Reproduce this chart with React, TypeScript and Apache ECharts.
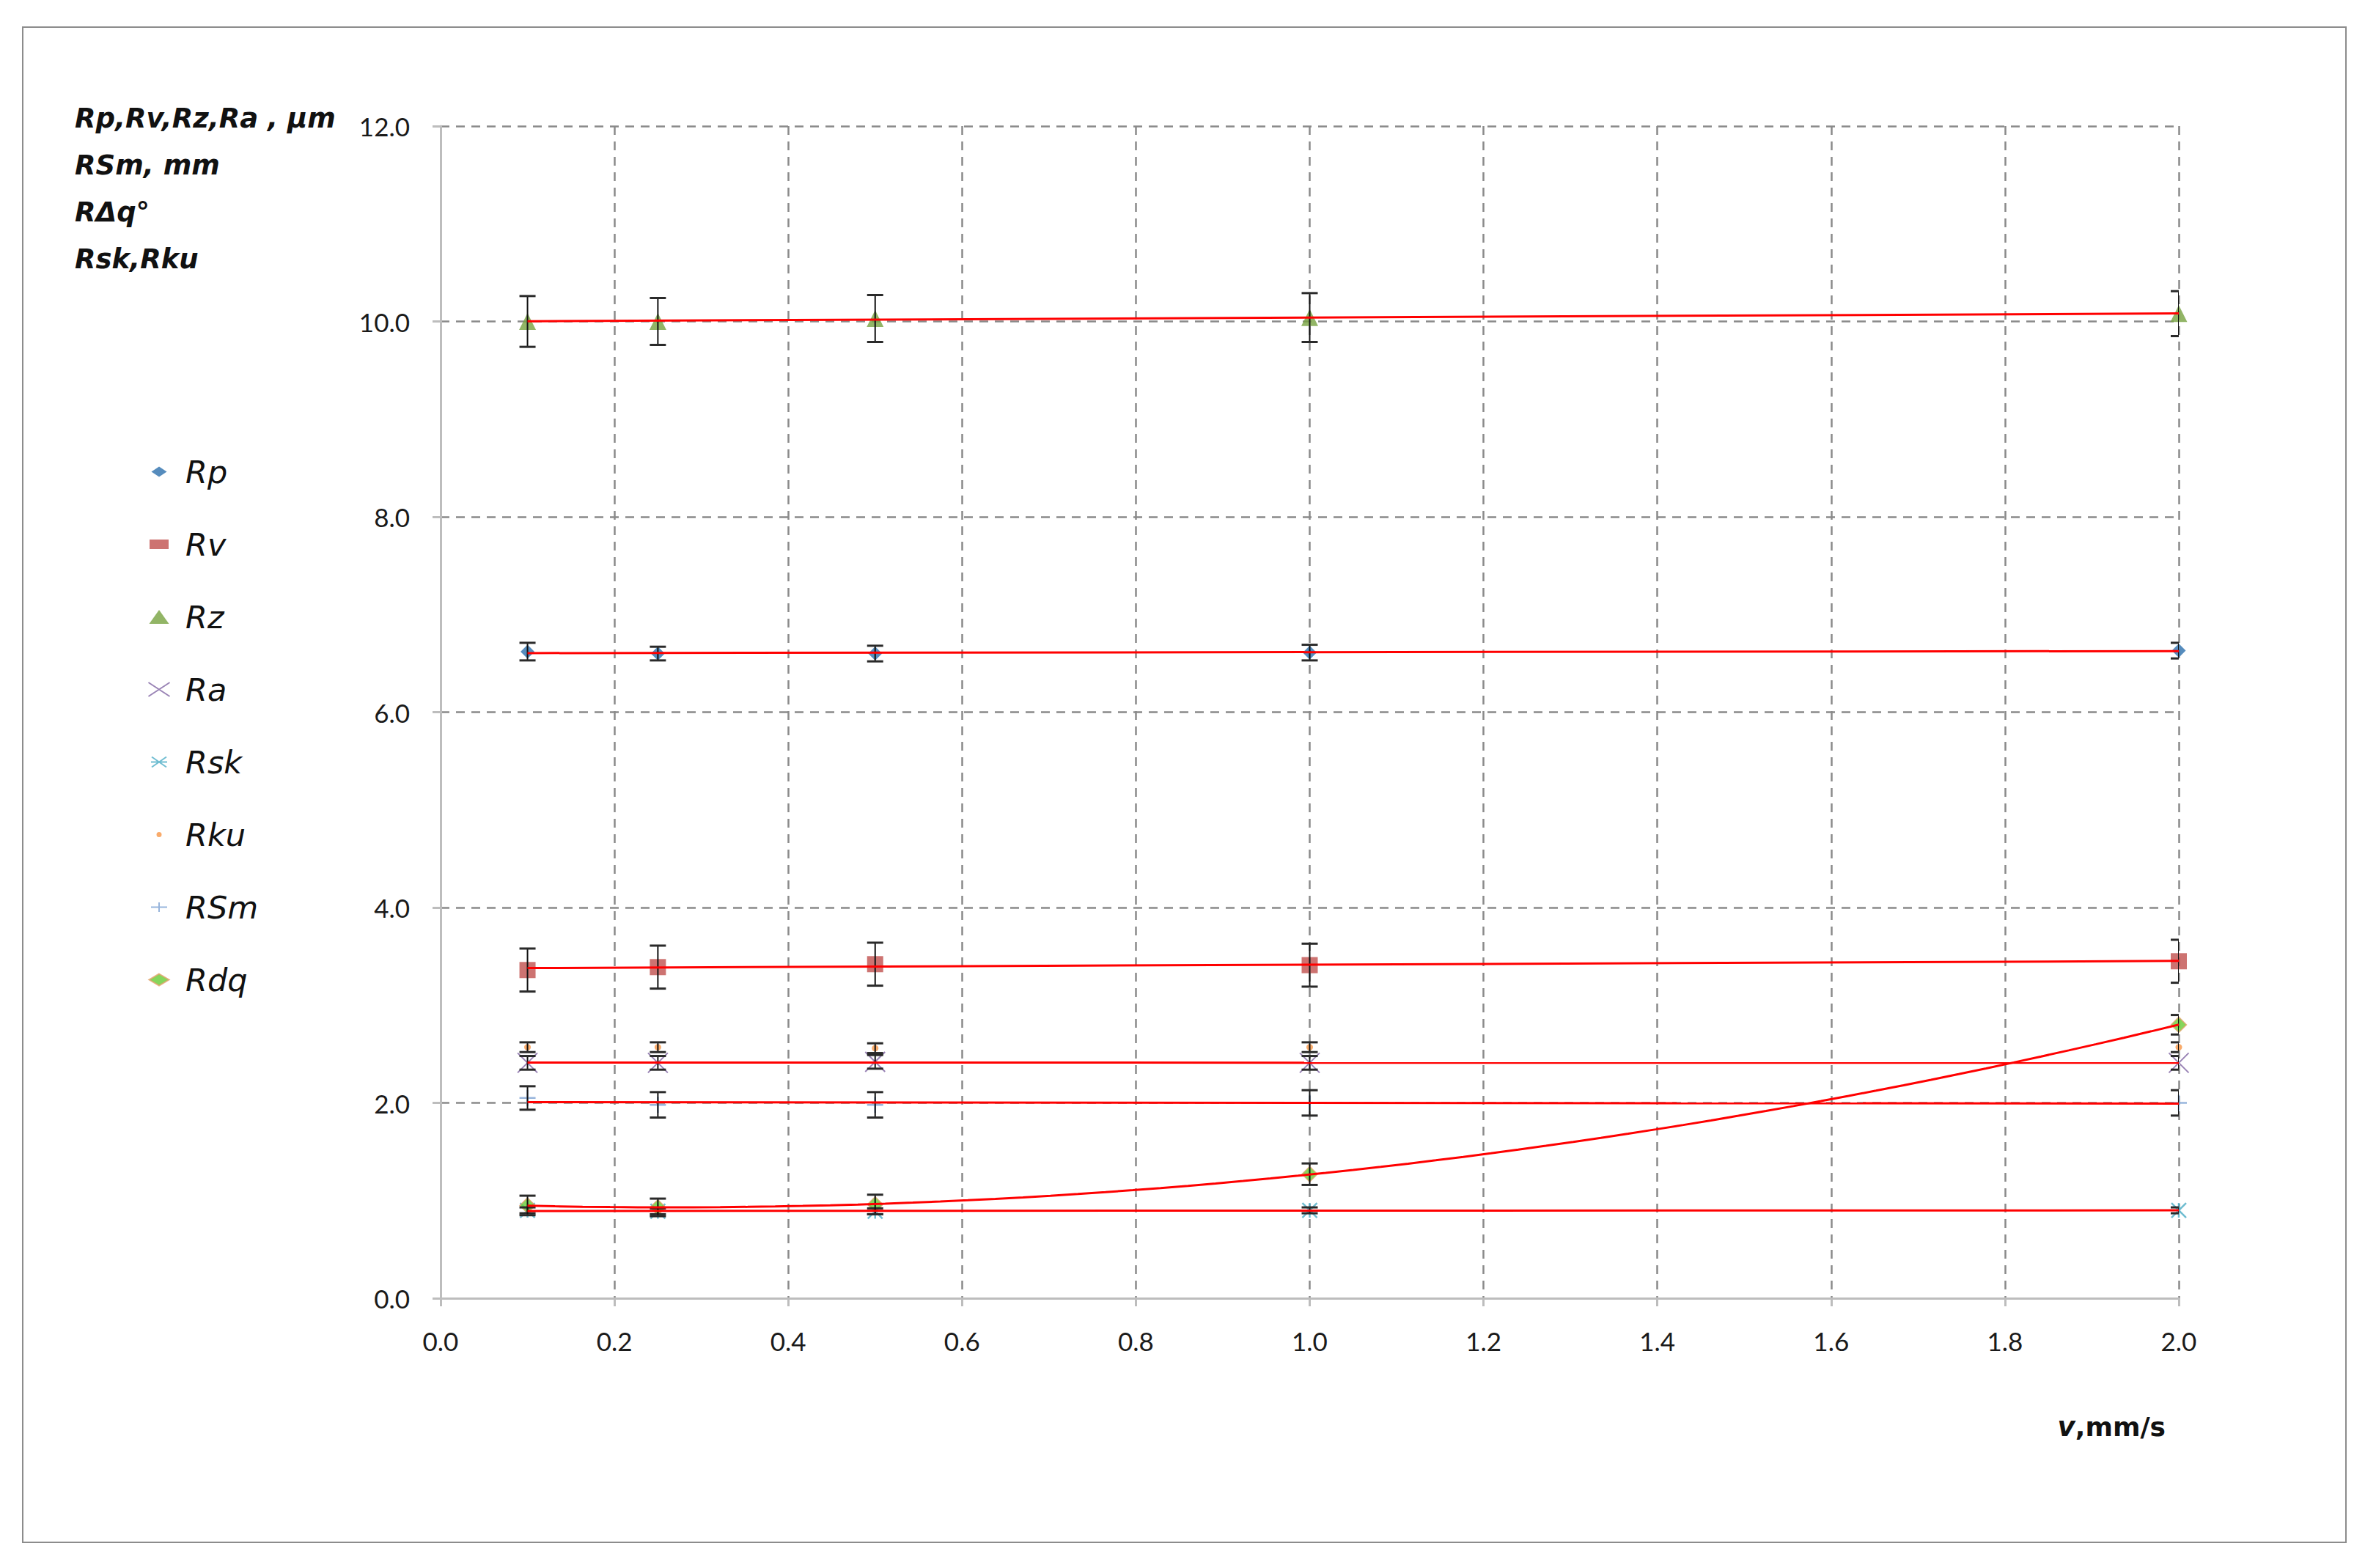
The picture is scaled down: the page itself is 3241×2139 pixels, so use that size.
import React, { useEffect, useRef } from "react";
import * as echarts from "echarts";

// ---- data ----
const X_VALUES = [0.1, 0.25, 0.5, 1.0, 2.0];
const NAMES = ["Rp", "Rv", "Rz", "Ra", "Rsk", "Rku", "RSm", "Rdq"];

const RP = [6.62, 6.6, 6.6, 6.61, 6.63];
const RV = [3.36, 3.39, 3.42, 3.41, 3.45];
const RZ = [10.0, 10.0, 10.03, 10.04, 10.08];
const RA = [2.41, 2.41, 2.42, 2.41, 2.41];
const RSK = [0.9, 0.89, 0.89, 0.9, 0.9];
const RKU = [2.57, 2.57, 2.56, 2.57, 2.57];
const RSM = [2.05, 1.98, 1.98, 2.0, 2.0];
const RDQ = [0.95, 0.93, 0.96, 1.27, 2.8];

const ERR_RP = [0.09, 0.07, 0.08, 0.08, 0.08];
const ERR_RV = [0.22, 0.22, 0.22, 0.22, 0.22];
const ERR_RZ = [0.26, 0.24, 0.24, 0.25, 0.23];
const ERR_RA = [0.07, 0.07, 0.07, 0.07, 0.07];
const ERR_RSK = [0.03, 0.03, 0.03, 0.03, 0.03];
const ERR_RKU = [0.05, 0.05, 0.05, 0.05, 0.05];
const ERR_RSM = [0.12, 0.13, 0.13, 0.13, 0.13];
const ERR_RDQ = [0.1, 0.09, 0.1, 0.11, 0.1];

const Y_TITLE_LINES = ["Rp,Rv,Rz,Ra , µm", "RSm, mm", "RΔq°", "Rsk,Rku"];
const X_TITLE_V = "v";
const X_TITLE_REST = ",mm/s";

// which series get a trend line, and its polynomial order
const TRENDS: [string, number][] = [
  ["Rz", 1],
  ["Rp", 1],
  ["Rv", 1],
  ["Ra", 1],
  ["RSm", 1],
  ["Rdq", 2],
  ["Rsk", 1],
];

const VALUES: Record<string, number[]> = {
  Rp: RP, Rv: RV, Rz: RZ, Ra: RA, Rsk: RSK, Rku: RKU, RSm: RSM, Rdq: RDQ,
};
const ERRORS: Record<string, number[]> = {
  Rp: ERR_RP, Rv: ERR_RV, Rz: ERR_RZ, Ra: ERR_RA, Rsk: ERR_RSK, Rku: ERR_RKU, RSm: ERR_RSM, Rdq: ERR_RDQ,
};

const X_SYM = "path://M0 0L10 10M10 0L0 10";
const STAR_SYM = "path://M0 0L10 10M10 0L0 10M5 0L5 10";
const PLUS_SYM = "path://M0 5L10 5M5 0L5 10";

// legend icons (drawn in a 30x20 box so their relative size is kept)
const BOX = "M0 0M30 20";
const LEGEND_ICONS: Record<string, string> = {
  Rp: "path://" + BOX + "M15 3L25.5 10L15 17L4.5 10Z",
  Rv: "path://" + BOX + "M2 3.5H28V16.5H2Z",
  Rz: "path://" + BOX + "M15 0.5L28.5 19.5H1.5Z",
  Ra: "path://" + BOX + "M0.5 0.5L29.5 19.5M29.5 0.5L0.5 19.5",
  Rsk: "path://" + BOX + "M5 3L25 17M25 3L5 17M4 10L26 10",
  Rku: "path://" + BOX + "M11.5 10A3.5 3.5 0 1 0 18.5 10A3.5 3.5 0 1 0 11.5 10Z",
  RSm: "path://" + BOX + "M4 10L26 10M15 3.5L15 16.5",
  Rdq: "path://" + BOX + "M15 2L28.5 10L15 18L1.5 10Z",
};

const STYLES: Record<string, any> = {
  Rp: { symbol: "diamond", symbolSize: 19, itemStyle: { color: "#2c6fad" } },
  Rv: { symbol: "rect", symbolSize: 22, itemStyle: { color: "#c0504d" } },
  Rz: { symbol: "triangle", symbolSize: 23, itemStyle: { color: "#77a340" } },
  Ra: { symbol: X_SYM, symbolSize: 27, itemStyle: { color: "transparent", borderColor: "#8064a2", borderWidth: 2 } },
  Rsk: { symbol: STAR_SYM, symbolSize: 20, itemStyle: { color: "transparent", borderColor: "#4bacc6", borderWidth: 2.5 } },
  Rku: { symbol: "circle", symbolSize: 9, itemStyle: { color: "#f79646" } },
  RSm: { symbol: PLUS_SYM, symbolSize: 22, itemStyle: { color: "transparent", borderColor: "#7ea3d3", borderWidth: 2.5 } },
  Rdq: { symbol: "diamond", symbolSize: 21, itemStyle: { color: "#66cc33", borderColor: "#e3a36c", borderWidth: 1.5 } },
};

function polyFit(xs: number[], ys: number[], order: number): number[] {
  const m = order + 1;
  const A: number[][] = [];
  for (let r = 0; r < m; r++) {
    const row: number[] = [];
    for (let c = 0; c < m; c++) {
      let s = 0;
      for (let i = 0; i < xs.length; i++) s += Math.pow(xs[i], r + c);
      row.push(s);
    }
    let b = 0;
    for (let i = 0; i < xs.length; i++) b += ys[i] * Math.pow(xs[i], r);
    row.push(b);
    A.push(row);
  }
  for (let col = 0; col < m; col++) {
    let piv = col;
    for (let r = col + 1; r < m; r++) if (Math.abs(A[r][col]) > Math.abs(A[piv][col])) piv = r;
    const tmp = A[col]; A[col] = A[piv]; A[piv] = tmp;
    for (let r = 0; r < m; r++) {
      if (r === col) continue;
      const f = A[r][col] / A[col][col];
      for (let c = col; c <= m; c++) A[r][c] -= f * A[col][c];
    }
  }
  return A.map((row, i) => row[m] / row[i]);
}

export default function App() {
  const ref = useRef<HTMLDivElement>(null);

  useEffect(() => {
    if (!ref.current) return;
    const chart = echarts.init(ref.current, null, { renderer: "svg" });

    const scatterSeries = NAMES.map((n) => ({
      name: n,
      type: "scatter",
      data: X_VALUES.map((x, i) => [x, VALUES[n][i]]),
      z: 3,
      clip: false,
      ...STYLES[n],
    }));

    const errorSeries = NAMES.map((n) => ({
      name: n + " error",
      type: "custom",
      z: 4,
      clip: true,
      silent: true,
      encode: { x: 0, y: [1, 2] },
      data: X_VALUES.map((x, i) => [x, VALUES[n][i] - ERRORS[n][i], VALUES[n][i] + ERRORS[n][i]]),
      renderItem: (params: any, api: any) => {
        const x = api.value(0);
        const lo = api.coord([x, api.value(1)]);
        const hi = api.coord([x, api.value(2)]);
        const w = 11;
        return {
          type: "group",
          children: [
            { type: "line", shape: { x1: hi[0], y1: hi[1], x2: lo[0], y2: lo[1] }, style: { stroke: "#111", lineWidth: 2 } },
            { type: "line", shape: { x1: hi[0] - w, y1: hi[1], x2: hi[0] + w, y2: hi[1] }, style: { stroke: "#2a2a2a", lineWidth: 3 } },
            { type: "line", shape: { x1: lo[0] - w, y1: lo[1], x2: lo[0] + w, y2: lo[1] }, style: { stroke: "#2a2a2a", lineWidth: 3 } },
          ],
        };
      },
    }));

    const trendSeries = TRENDS.map(([n, order]) => {
      const coef = polyFit(X_VALUES, VALUES[n], order);
      const f = (x: number) => coef.reduce((s, c, k) => s + c * Math.pow(x, k), 0);
      const x0 = X_VALUES[0];
      const x1 = X_VALUES[X_VALUES.length - 1];
      const steps = order === 1 ? 1 : 60;
      const pts: number[][] = [];
      for (let k = 0; k <= steps; k++) {
        const x = x0 + ((x1 - x0) * k) / steps;
        pts.push([x, f(x)]);
      }
      return {
        name: n + " trend",
        type: "line",
        data: pts,
        showSymbol: false,
        symbol: "none",
        smooth: false,
        silent: true,
        z: 5,
        lineStyle: { color: "#ff0000", width: 3 },
      };
    });

    const gridLine = { show: true, lineStyle: { color: "#8a8a8a", width: 2.5, type: [12, 9] } };

    chart.setOption({
      animation: false,
      backgroundColor: "#ffffff",
      title: {
        text: Y_TITLE_LINES.join("\n"),
        left: 97,
        top: 124,
        textStyle: {
          fontFamily: "DejaVu Sans",
          fontSize: 37,
          fontWeight: "bold",
          fontStyle: "italic",
          color: "#111",
          lineHeight: 64,
        },
      },
      legend: {
        orient: "vertical",
        left: 196,
        top: 617,
        itemWidth: 30,
        itemHeight: 20,
        itemGap: 56,
        data: NAMES.map((n) => ({ name: n, icon: LEGEND_ICONS[n] })),
        textStyle: {
          fontFamily: "DejaVu Sans",
          fontSize: 43,
          fontStyle: "italic",
          color: "#111",
          lineHeight: 43,
          padding: [0, 0, 0, 16],
        },
      },
      grid: { left: 601, right: 269, top: 172, bottom: 368, containLabel: false },
      xAxis: {
        type: "value",
        min: 0,
        max: 2,
        interval: 0.2,
        axisLine: { show: true, onZero: false, lineStyle: { color: "#bdbdbd", width: 3 } },
        axisTick: { show: true, length: 11, lineStyle: { color: "#bdbdbd", width: 3 } },
        axisLabel: {
          formatter: (v: number) => v.toFixed(1),
          fontFamily: "Lato",
          fontSize: 35,
          color: "#1a1a1a",
          margin: 40,
        },
        splitLine: gridLine,
      },
      yAxis: {
        type: "value",
        min: 0,
        max: 12,
        interval: 2,
        axisLine: { show: true, lineStyle: { color: "#bdbdbd", width: 3 } },
        axisTick: { show: true, length: 11, lineStyle: { color: "#bdbdbd", width: 3 } },
        axisLabel: {
          formatter: (v: number) => v.toFixed(1),
          fontFamily: "Lato",
          fontSize: 35,
          color: "#1a1a1a",
          margin: 42,
        },
        splitLine: gridLine,
      },
      graphic: [
        {
          type: "rect",
          shape: { x: 31, y: 37, width: 3169, height: 2067 },
          style: { fill: "none", stroke: "#8c8c8c", lineWidth: 2 },
          silent: true,
          z: -1,
        },
        {
          type: "text",
          right: 3241 - 2954,
          top: 1928,
          style: {
            text: "{v|" + X_TITLE_V + "}{r|" + X_TITLE_REST + "}",
            rich: {
              v: { fontFamily: "DejaVu Sans", fontSize: 37, fontWeight: "bold", fontStyle: "italic", fill: "#111" },
              r: { fontFamily: "DejaVu Sans", fontSize: 36, fontWeight: "bold", fill: "#111" },
            },
          },
        },
      ],
      series: [...scatterSeries, ...errorSeries, ...trendSeries],
    });

    return () => chart.dispose();
  }, []);

  return (
    <div
      ref={ref}
      style={{ position: "absolute", left: 0, top: 0, width: 3241, height: 2139, background: "#fff" }}
    />
  );
}
